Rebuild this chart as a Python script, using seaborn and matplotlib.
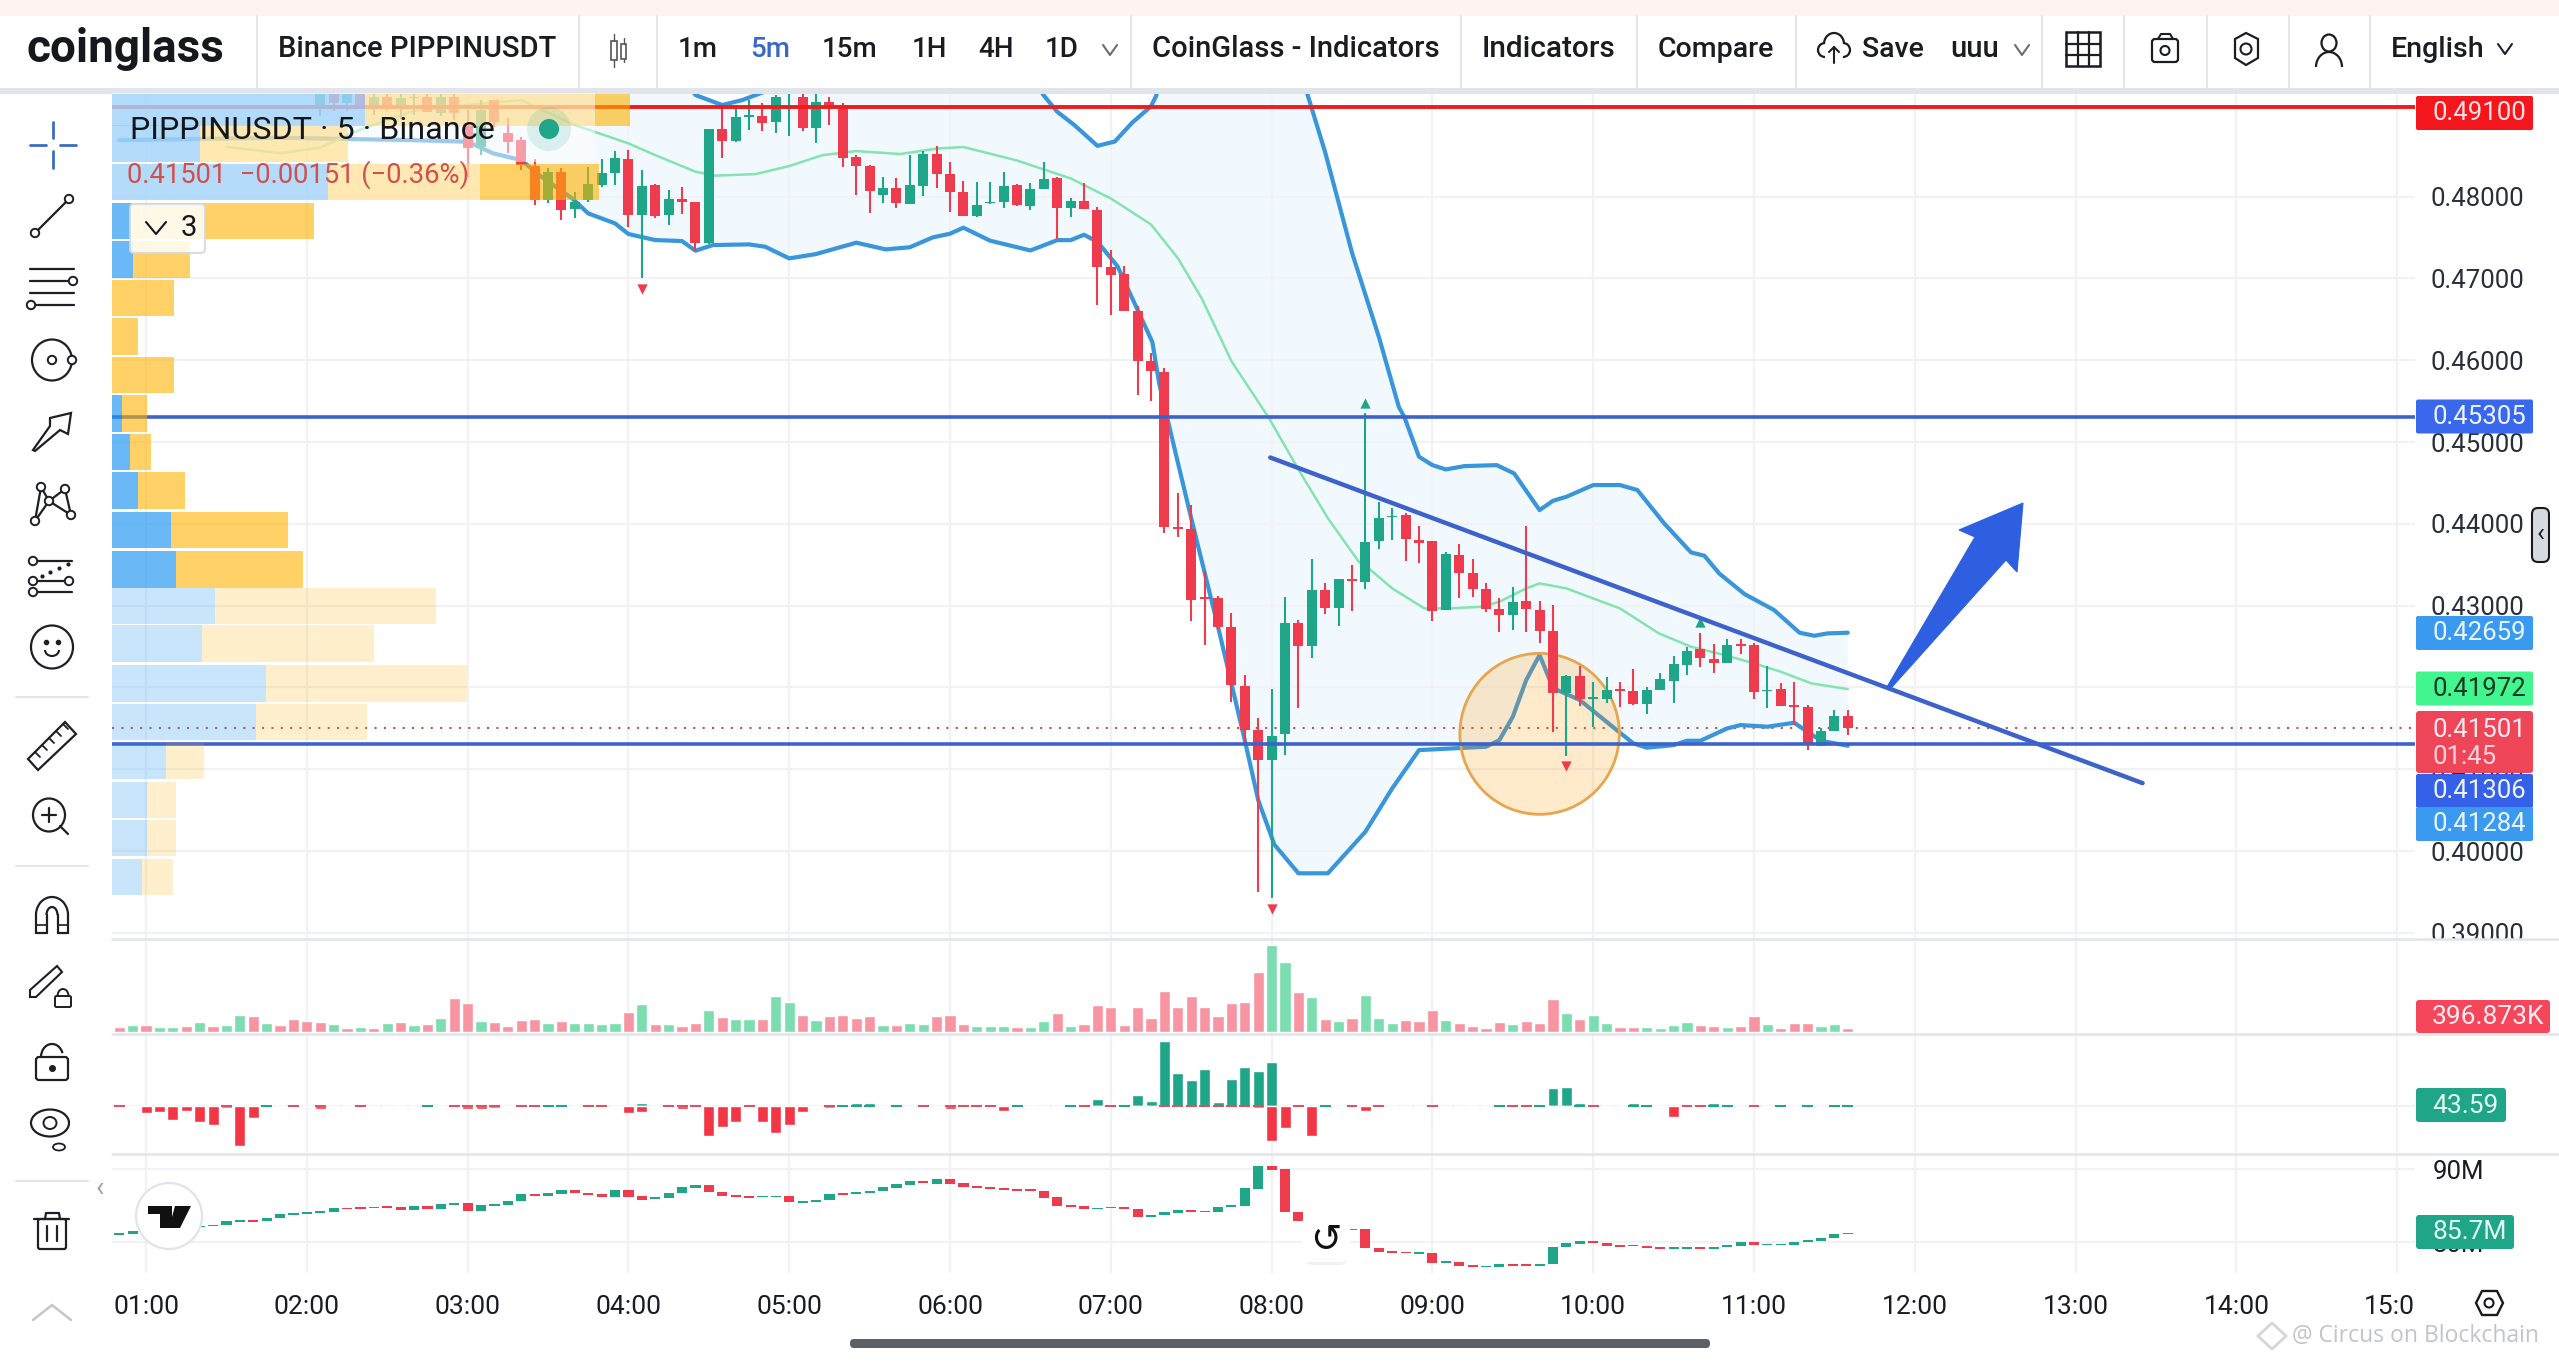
import numpy as np
import pandas as pd
import matplotlib
matplotlib.use('Agg')
import matplotlib.pyplot as plt
import seaborn as sns
from matplotlib.patches import Rectangle, FancyBboxPatch, Circle, Ellipse, Polygon, Arc

# bars are 5 min, index 0 = 01:00
hour_idx = [0, 12, 24, 36, 48, 60, 72, 84, 96, 108, 120, 132, 144, 156, 168]
hour_labels = ['01:00', '02:00', '03:00', '04:00', '05:00', '06:00', '07:00', '08:00',
               '09:00', '10:00', '11:00', '12:00', '13:00', '14:00', '15:00']
price_ticks = [0.39, 0.40, 0.41, 0.42, 0.43, 0.44, 0.45, 0.46, 0.47, 0.48]

candle_first = 13
candle_open = [.4910, .4930, .4915, .4925, .4912, .4922, .4910, .4920,
               .49222, .49018, .49222, .48896, .48610, .49181, .48773, .48692, .48374, .47958,
               .48305, .47844, .47958, .48142, .48292, .48459, .47775, .48142, .47775, .47966,
               .47938, .47429, .48822, .48684, .48977, .48985, .48908, .49290, .49222, .48834,
               .49160, .49091, .48480, .48378, .48019, .48101, .47912, .48124, .48521, .48276,
               .48057, .47766, .47918, .47931, .48137, .47885, .48090, .48223, .47859, .47951,
               .47839, .47143, .47050, .46606, .45990, .45857, .43962, .43943, .43101, .43088,
               .42743, .42021, .41478, .41107, .41425, .42783, .42511, .43194, .42969, .43320,
               .43292, .43793, .44079, .44103, .43806, .43785, .42946, .43614, .43402, .43207,
               .42962, .42885, .43052, .42950, .42693, .41927, .42143, .41858, .41858, .41972,
               .41960, .41797, .41972, .42082, .42273, .42469, .42351, .42302, .42526, .42518,
               .41951, .41976, .41776, .41756, .41287, .41471, .41654]
candle_high = [.4935, .4935, .4930, .4935, .4930, .4935, .4925, .4935,
               .49400, .49400, .49300, .49059, .49181, .49181, .48957, .48733, .48455, .48345,
               .48345, .48060, .48366, .48455, .48557, .48570, .48325, .48150, .48081, .48113,
               .47938, .48830, .49099, .49079, .49181, .49140, .49242, .49303, .49262, .49262,
               .49222, .49140, .48508, .48386, .48235, .48223, .48508, .48561, .48621, .48422,
               .48196, .48177, .48177, .48296, .48150, .48163, .48422, .48243, .47978, .48163,
               .47879, .47348, .47149, .46666, .46089, .45904, .44380, .44234, .43419, .43121,
               .42909, .42147, .41630, .41981, .43101, .42823, .43565, .43273, .43320, .43492,
               .45350, .44262, .44189, .44136, .43973, .43785, .43659, .43749, .43569, .43272,
               .43088, .43223, .43973, .43056, .43007, .42151, .42265, .42066, .42131, .42061,
               .42220, .42009, .42171, .42387, .42498, .42661, .42526, .42587, .42595, .42538,
               .42265, .42049, .42070, .41784, .41499, .41723, .41723]
candle_low = [.4898, .4905, .4905, .4910, .4900, .4905, .4895, .4900,
              .49038, .48980, .48940, .48243, .48508, .48855, .48529, .48325, .47897, .47917,
              .47714, .47734, .47938, .48121, .48142, .47632, .47001, .47734, .47653, .47787,
              .47339, .47420, .48468, .48671, .48814, .48806, .48773, .48741, .48806, .48659,
              .48875, .48358, .48019, .47803, .47917, .47856, .47912, .48011, .48110, .47812,
              .47766, .47746, .47912, .47865, .47885, .47832, .48090, .47481, .47753, .47845,
              .46679, .46547, .46606, .45573, .45506, .43883, .43836, .42810, .42518, .42710,
              .41816, .41319, .39497, .39430, .41180, .41749, .42366, .42896, .42757, .42929,
              .43207, .43696, .43801, .43545, .43524, .42811, .42946, .43092, .43101, .42925,
              .42681, .42701, .42681, .42538, .41458, .41161, .41772, .41520, .41805, .41764,
              .41784, .41674, .41968, .41813, .42151, .42245, .42171, .42294, .42404, .41854,
              .41744, .41772, .41540, .41234, .41287, .41471, .41418]
candle_close = [.4930, .4915, .4925, .4912, .4922, .4910, .4920, .4922,
                .49038, .49222, .49018, .48590, .49059, .48916, .48671, .48386, .47958, .48305,
                .47836, .47938, .48154, .48284, .48468, .47775, .48133, .47763, .47966, .47930,
                .47429, .48822, .48684, .48969, .48997, .48896, .49222, .49303, .48834, .49160,
                .49091, .48468, .48374, .48072, .48101, .47917, .48137, .48521, .48276, .48057,
                .47766, .47898, .47931, .48130, .47892, .48097, .48216, .47865, .47951, .47845,
                .47143, .47043, .46606, .45990, .45864, .43962, .43943, .43075, .43081, .42743,
                .42027, .41478, .41107, .41411, .42783, .42511, .43187, .42969, .43320, .43300,
                .43781, .44066, .44095, .43810, .43769, .42934, .43626, .43402, .43207, .42958,
                .42885, .43048, .42958, .42693, .41927, .42143, .41854, .41874, .41972, .41956,
                .41797, .41972, .42098, .42282, .42449, .42363, .42302, .42522, .42510, .41947,
                .41968, .41776, .41760, .41308, .41467, .41654, .41501]

# bollinger, read at the bends of each curve
upper_x = [-2, 38, 41, 43, 44.5, 46.5, 50, 64, 67, 68, 69.3, 71, 72.3, 73.6, 75, 75.4, 76, 85, 86.7, 88, 90, 92,
           93.5, 93.9, 95, 96, 97, 98.4, 100.8, 102.1, 104, 105, 106, 108, 110, 111.3, 112, 113.3, 115.3, 116.3,
           117.4, 119.3, 121.5, 123.4, 124.5, 125.5, 127]
upper_y = [.505, .50, .49242, .49120, .49181, .49303, .50, .50, .49237, .49038, .48872, .48621, .48674, .48905,
           .49104, .49237, .50, .505, .49237, .48541, .47315, .46288, .45427, .45309, .44820, .44718, .44665,
           .44706, .44718, .44616, .44168, .44282, .44331, .44474, .44474, .44413, .44270, .44005, .43651, .43610,
           .43394, .43141, .42946, .42669, .42632, .42661, .42669]
lower_x = [-2, 10, 20, 24, 25.9, 28, 29.5, 31.8, 33, 35, 36, 38, 40, 41, 42.3, 45, 46.2, 48, 50, 53, 55.2, 57,
           58.7, 60, 61, 63, 66, 68, 69, 70, 71, 72.5, 73.8, 75.1, 75.6, 76.5, 78, 80, 82, 83, 84.2, 86, 88.2,
           91, 93, 95, 100, 101, 102, 103, 104, 105, 107, 110, 111, 112, 114, 115, 116, 118, 119, 121, 123, 124,
           125, 127]
lower_y = [.4869, .4872, .4869, .48671, .48529, .48447, .48243, .47979, .47795, .47673, .47543, .47469, .47457,
           .47339, .47408, .47416, .47388, .47245, .47298, .47437, .47355, .47381, .47501, .47547, .47620, .47461,
           .47342, .47468, .47468, .47534, .47448, .47149, .46686, .46222, .45725, .45095, .44068, .42743, .41352,
           .40623, .40080, .39728, .39728, .40236, .40766, .41234, .41275, .41356, .41642, .42090, .42396, .41992,
           .41846, .41446, .41316, .41263, .41295, .41348, .41348, .41499, .41540, .41520, .41568, .41458, .41348,
           .41287]
mid_x = [6, 10, 13, 16, 20, 24, 28, 32, 36, 38, 41, 42.5, 45.5, 48, 50.5, 53, 56.3, 59, 61, 65, 69, 72, 75, 77,
         78.8, 81, 83.8, 86, 88.2, 90.5, 91.4, 93, 95.4, 97.3, 99.7, 101, 103, 104, 106, 108, 110, 112.9, 115.3,
         117.8, 120, 122, 124.3, 127]
mid_y = [.4861, .4853, .4860, .4882, .4905, .4912, .4918, .48875, .48651, .48508, .48305, .48256, .48276, .48374,
         .48508, .48557, .48521, .48587, .48607, .48442, .48223, .47978, .47660, .47249, .46752, .45989, .45294,
         .44665, .44068, .43538, .43435, .43211, .42966, .42966, .42986, .43048, .43211, .43272, .43211, .43088,
         .42966, .42661, .42498, .42396, .42294, .42192, .42049, .41980]

signal_up_idx = [91, 116]
signal_up_px = [.45480, .42803]
signal_dn_idx = [37, 84, 106]
signal_dn_px = [.46866, .39297, .41039]

# volume profile rows (price centre, buy and sell size)
vp_price = [.49083, .48649, .48178, .47702, .47231, .46760, .46290, .45819, .45348, .44878, .44407, .43924, .43441,
            .42995, .42537, .42048, .41577, .41100, .40623, .40159, .39682]
vp_buy = [253, 88, 216, 19, 21, 0, 0, 0, 10, 18, 26, 59, 64, 103, 90, 154, 144, 54, 35, 35, 30]
vp_sell = [265, 148, 271, 183, 57, 62, 26, 62, 25, 21, 47, 117, 127, 221, 172, 201, 111, 38, 29, 29, 31]
vp_value_area = [1] * 13 + [0] * 8

# lower panes start at index -2
pane_idx = list(range(-2, 128))
volume_k = [450, 660, 660, 450, 450, 570, 930, 570, 660, 1560, 1470, 840, 660, 1200, 1020, 930, 750, 390, 480, 390,
            840, 930, 660, 750, 1290, 3090, 2640, 1020, 930, 570, 1110, 1200, 840, 1020, 840, 840, 750, 840, 1830,
            2550, 690, 750, 570, 840, 1950, 1350, 1200, 1200, 1200, 3270, 2730, 1560, 1110, 1410, 1560, 1290, 1470,
            660, 660, 840, 750, 1470, 1560, 750, 570, 570, 570, 480, 480, 960, 1740, 570, 750, 2460, 2280, 660,
            2280, 1290, 3720, 2280, 3270, 2280, 1470, 2640, 2730, 5430, 7800, 6330, 3630, 3180, 1200, 1020, 1290,
            3360, 1290, 840, 1110, 1020, 2010, 1110, 840, 570, 390, 930, 750, 1020, 840, 3000, 1740, 1200, 1560,
            840, 480, 480, 480, 390, 660, 930, 660, 570, 480, 570, 1470, 750, 390, 840, 840, 570, 750, 397]
volume_dir = list('RGRGGRGRGG' 'RGRRRRGRGR' 'GRGRGRRGRR' 'RRGRGGGGRG' 'RGRRGRGGRG' 'GRGRRRRGRG' 'GRRRGGGRGG'
                  'RGRRRRRRRR' 'RRRRRRGGRG' 'RGRGGGRRRG' 'RRRRGRRRGR' 'GGRRGGGGRR' 'GRRGRRRGGR')

delta_up = [0, 0, 0, 0, 0, 0, 0, 0, 0, 0, 0, 4, 0, 0, 0, 3, 0, 0, 0, 0, 0, 0, 0, 3, 0, 0, 0, 0, 0, 0, 0, 0, 3, 6, 0, 0,
            0, 0, 0, 10, 0, 0, 0, 0, 0, 0, 0, 0, 0, 0, 0, 0, 0, 0, 4, 8, 10, 0, 3, 0, 0, 0, 0, 0, 0, 0, 0, 3, 0, 0, 0,
            3, 0, 20, 0, 3, 32, 15, 195, 99, 78, 111, 12, 81, 117, 105, 131, 0, 0, 0, 3, 0, 0, 0, 0, 0, 0, 0, 0, 0, 0,
            0, 0, 3, 0, 0, 5, 53, 57, 8, 0, 0, 0, 8, 3, 0, 0, 0, 0, 8, 3, 0, 0, 0, 3, 0, 3, 0, 3, 3]
delta_down = [3, 0, 22, 18, 42, 15, 49, 57, 6, 120, 37, 0, 0, 4, 0, 9, 0, 0, 4, 0, 0, 0, 0, 0, 0, 4, 9, 9, 5, 0, 4, 4,
              0, 0, 0, 4, 4, 0, 21, 18, 0, 4, 9, 4, 90, 63, 48, 4, 48, 80, 56, 17, 0, 5, 0, 0, 0, 0, 0, 0, 3, 0, 9, 4,
              4, 3, 15, 0, 0, 0, 0, 0, 3, 0, 3, 0, 0, 0, 3, 3, 3, 3, 3, 3, 3, 5, 106, 66, 3, 90, 0, 0, 3, 15, 4, 0, 0,
              0, 3, 0, 0, 0, 0, 0, 3, 3, 0, 0, 0, 0, 3, 0, 0, 0, 0, 0, 34, 3, 3, 0, 0, 0, 3, 0, 0, 0, 0, 0, 0, 0]

# third pane candles, in steps of 1/22 M above 80M
cvd_open_steps = [23, 26, 29, 34, 38, 42, 47, 49, 52, 62, 67, 64, 73, 82, 86, 88, 91, 104, 105, 103, 109, 105, 97,
                  108, 101, 112, 117, 94, 109, 112, 125, 145, 140, 146, 156, 149, 145, 137, 156, 138, 129, 133, 147,
                  164, 171, 151, 141, 140, 135, 135, 138, 119, 121, 127, 149, 146, 148, 153, 163, 172, 183, 175, 189,
                  177, 168, 165, 162, 159, 159, 155, 135, 112, 109, 99, 102, 105, 99, 77, 81, 88, 97, 95, 91, 105,
                  110, 161, 229, 219, 92, 67, 57, 47, 36, 39, -16, -26, -29, -35, -33, -63, -60, -69, -75, -73, -66,
                  -66, -70, -66, -14, -4, 5, -1, -7, -8, -10, -13, -19, -19, -15, -20, -13, -10, 2, -9, -9, -8, 2, 4,
                  12, 24]
cvd_close_steps = [29, 33, 34, 38, 42, 47, 50, 53, 65, 67, 61, 74, 84, 89, 92, 93, 103, 99, 100, 107, 104, 97, 108,
                   101, 114, 117, 93, 111, 114, 125, 144, 139, 147, 156, 148, 142, 137, 156, 136, 127, 136, 149, 165,
                   172, 151, 139, 135, 134, 140, 140, 121, 125, 128, 146, 142, 150, 154, 165, 174, 183, 179, 189, 175,
                   166, 164, 160, 157, 155, 155, 134, 109, 107, 99, 103, 106, 99, 77, 81, 91, 98, 92, 91, 105, 111,
                   162, 229, 217, 92, 65, 57, 47, 39, 39, -16, -28, -31, -33, -30, -61, -57, -70, -73, -70, -66, -70,
                   -72, -65, -13, -3, 5, -1, -10, -13, -12, -17, -20, -14, -13, -20, -13, -8, 2, -8, -4, -4, 2, 6, 14,
                   26, 29]

GREEN = '#1fa587'
RED = '#ef3b4e'
BLUE_LINE = '#3d63cb'
BAND = '#3a96da'
MID = '#84e4ae'
GRID = '#f0f2f6'
SEP = '#e1e4ea'
TXT = '#1a1c20'

sns.set_theme(style='white')
plt.rcParams['font.family'] = ['Roboto', 'DejaVu Sans']
plt.rcParams['axes.unicode_minus'] = False

W, H = 2559, 1361
fig = plt.figure(figsize=(W / 100, H / 100), dpi=100, facecolor='white')


def pane(top, bottom, zorder=1):
    a = fig.add_axes([112 / W, 1 - bottom / H, (2415 - 112) / W, (bottom - top) / H], zorder=zorder)
    a.patch.set_alpha(0)
    for s in a.spines.values():
        s.set_visible(False)
    return a


xlim = (-2.54, 169.33)
ax = pane(93, 938)
ax_vp = pane(93, 938, zorder=2)
ax_vol = pane(939, 1034)
ax_delta = pane(1034, 1154)
ax_cvd = pane(1154, 1273)

# main pane
c_idx = np.arange(candle_first, candle_first + len(candle_open))
c_open, c_close = np.array(candle_open), np.array(candle_close)
c_up = c_close >= c_open
c_col = np.where(c_up, GREEN, RED)

ax.fill(np.r_[upper_x, lower_x[::-1]], np.r_[upper_y, lower_y[::-1]], color='#f2f9fe', lw=0, zorder=0.5)
sns.lineplot(x=upper_x, y=upper_y, estimator=None, sort=False, color=BAND, lw=3.0, ax=ax, zorder=2)
sns.lineplot(x=lower_x, y=lower_y, estimator=None, sort=False, color=BAND, lw=3.0, ax=ax, zorder=2)
sns.lineplot(x=mid_x, y=mid_y, estimator=None, sort=False, color=MID, lw=1.8, ax=ax, zorder=2)
ax.add_patch(Ellipse((104.0, .41433), 11.9, .01968, fc='#ff9800', alpha=.2, ec='none', zorder=2.5))
ax.add_patch(Ellipse((104.0, .41433), 11.9, .01968, fc='none', ec='#e5a64e', lw=2, zorder=2.5))
ax.vlines(c_idx, candle_low, candle_high, colors=c_col, lw=1.5, zorder=3)
ax.bar(c_idx, np.abs(c_close - c_open).clip(min=.0002), bottom=np.minimum(c_open, c_close), width=.74,
       color=c_col, lw=0, zorder=3.1)
ax.scatter(signal_up_idx, signal_up_px, marker='^', s=55, color=GREEN, lw=0, zorder=3)
ax.scatter(signal_dn_idx, signal_dn_px, marker='v', s=55, color=RED, lw=0, zorder=3)
ax.axhline(.491, color='#ee1c1c', lw=2.8, zorder=4)
ax.axhline(.45305, color=BLUE_LINE, lw=2.6, zorder=4)
ax.axhline(.41306, color=BLUE_LINE, lw=2.6, zorder=4)
ax.axhline(.41501, color='#b9544f', lw=1.5, ls=(0, (1, 3.5)), zorder=1.5)
ax.plot([83.9, 149], [.44811, .4083], color=BLUE_LINE, lw=3.2, solid_capstyle='round', zorder=4)
ax.set_xlim(xlim)
ax.set_ylim(.38937, .49267)
ax.set_xticks(hour_idx)
ax.set_yticks(price_ticks, [f'{p:.5f}' for p in price_ticks])
ax.yaxis.tick_right()
ax.tick_params(axis='y', length=0, pad=11, labelsize=18.5, labelcolor='#2a2e39')
ax.tick_params(axis='x', length=0, labelbottom=False)
ax.grid(True, color=GRID, lw=1.6)
ax.set_axisbelow(True)

# volume profile sits over the candles
for p, b, s, va in zip(vp_price, vp_buy, vp_sell, vp_value_area):
    ax_vp.barh(p, b, height=.0045, left=0, color='#2196f3', alpha=.67 if va else .24, lw=0)
    ax_vp.barh(p, s, height=.0045, left=b, color='#ffb300', alpha=.6 if va else .2, lw=0)
ax_vp.set_xlim(0, 2303)
ax_vp.set_ylim(ax.get_ylim())
ax_vp.axis('off')

# volume
vol_df = pd.DataFrame({'idx': pane_idx, 'vol': volume_k, 'dir': volume_dir})
sns.barplot(data=vol_df, x='idx', y='vol', hue='dir', palette={'G': '#7bddb0', 'R': '#f795a2'}, native_scale=True,
            dodge=False, width=.84, saturation=1, errorbar=None, legend=False, ax=ax_vol, zorder=2)
ax_vol.set_ylim(-180, 8370)

# delta histogram, the small readings show as dashes across the zero line
up_arr, down_arr = np.array(delta_up), np.array(delta_down)
sns.barplot(x=pane_idx, y=delta_up, color=GREEN, saturation=1, native_scale=True, width=.82, errorbar=None,
            ax=ax_delta, zorder=2)
sns.barplot(x=pane_idx, y=-down_arr, color='#f23645', saturation=1, native_scale=True, width=.82,
            errorbar=None, ax=ax_delta, zorder=2)
idx_arr = np.array(pane_idx)
dash_g = (up_arr > 0) & (up_arr <= 10) & (down_arr == 0)
dash_r = (down_arr > 0) & (down_arr <= 10)
ax_delta.bar(idx_arr[dash_g], 6, bottom=-3, width=.82, color=GREEN, lw=0, zorder=2.1)
ax_delta.bar(idx_arr[dash_r], 6, bottom=-3, width=.82, color='#e25060', lw=0, zorder=2.1)
ax_delta.set_ylim(-144, 216)

# third pane
cvd_open = 80 + np.array(cvd_open_steps) / 22
cvd_close = 80 + np.array(cvd_close_steps) / 22
cvd_col = np.where(cvd_close >= cvd_open, GREEN, RED)
ax_cvd.bar(pane_idx, np.abs(cvd_close - cvd_open), bottom=np.minimum(cvd_open, cvd_close), width=.76, color=cvd_col,
           lw=0, zorder=2)
ax_cvd.set_ylim(75.82, 92.05)
ax_cvd.set_yticks([80, 90], ['80M', '90M'])
ax_cvd.yaxis.tick_right()
ax_cvd.tick_params(axis='y', length=0, pad=13, labelsize=18.5, labelcolor=TXT)

for a in (ax_vol, ax_delta, ax_cvd):
    a.set_xlim(xlim)
    a.set_xticks(hour_idx)
    a.set_xlabel('')
    a.set_ylabel('')
    a.grid(True, axis='x', color=GRID, lw=1.6)
    a.set_axisbelow(True)
    a.tick_params(axis='x', length=0, labelbottom=False)
ax_vol.set_yticks([])
ax_delta.set_yticks([0], [''])
ax_delta.tick_params(axis='y', length=0)
ax_delta.grid(True, axis='y', color=GRID, lw=1.6)
ax_cvd.grid(True, axis='y', color=GRID, lw=1.6)
ax_cvd.set_xticks(hour_idx, hour_labels)
ax_cvd.tick_params(axis='x', labelbottom=True, pad=16, labelsize=19, labelcolor=TXT)

# page furniture on a pixel overlay
ov = fig.add_axes([0, 0, 1, 1], zorder=10)
ov.set_xlim(0, W)
ov.set_ylim(H, 0)
ov.axis('off')


def rect(x0, y0, x1, y1, color, alpha=1.0, z=1):
    ov.add_patch(Rectangle((x0, y0), x1 - x0, y1 - y0, fc=color, ec='none', alpha=alpha, zorder=z))


def rbox(x0, y0, x1, y1, fc, ec='none', lw=0.0, r=3, alpha=1.0, z=1):
    ov.add_patch(FancyBboxPatch((x0 + r, y0 + r), x1 - x0 - 2 * r, y1 - y0 - 2 * r,
                                boxstyle=f'round,pad={r},rounding_size={r}', fc=fc, ec=ec, lw=lw, alpha=alpha,
                                zorder=z))


def txt(x, y, s, size=19, color=TXT, ha='left', weight='normal', z=5, **kw):
    ov.text(x, y, s, fontsize=size, color=color, ha=ha, va='center', fontweight=weight, zorder=z, **kw)


def stroke(xs, ys, color='#1d1f24', lw=1.6, z=5, **kw):
    ov.plot(xs, ys, color=color, lw=lw, zorder=z, solid_capstyle='round', **kw)


def node(x, y, r=4.2):
    ov.add_patch(Ellipse((x, y), 2 * r, 2 * r, fc='white', ec='#1d1f24', lw=1.4, zorder=6))


def chevron(x, y, w=7, h=5, color='#6a6d75'):
    stroke([x - w, x, x + w], [y - h, y + h, y - h], color=color, lw=1.5)


# top bar
rect(0, 0, W, 16, '#fdf4f2')
rect(0, 88, W, 94, SEP)
for sx in [257, 579, 657, 1131, 1461, 1637, 1796, 2042, 2124, 2207, 2289, 2370]:
    stroke([sx, sx], [16, 88], color='#dfe1e6', lw=1.2)
txt(26, 49, 'coinglass', size=33, weight='bold', color='#16181d')
txt(278, 49, 'Binance PIPPINUSDT', size=21, weight=500)
for tx, label, col in [(698, '1m', TXT), (770, '5m', '#3a68c8'), (850, '15m', TXT), (929, '1H', TXT),
                       (996, '4H', TXT), (1062, '1D', TXT)]:
    txt(tx, 49, label, size=20, ha='center', color=col, weight=500)
chevron(1110, 50)
txt(1152, 49, 'CoinGlass - Indicators', size=21, weight=500)
txt(1482, 49, 'Indicators', size=21.5, weight=500)
txt(1658, 49, 'Compare', size=20.5, weight=500)
txt(1862, 49, 'Save', size=20.5, weight=500)
txt(1950, 49, 'uuu', size=21, weight=500)
chevron(2022, 50)
txt(2391, 49, 'English', size=20.5, weight=500)
chevron(2505, 49, color='#1d1f24')
# candle icon
ov.add_patch(Rectangle((611, 41), 6, 19, fc='white', ec='#555', lw=1.2, zorder=5))
ov.add_patch(Rectangle((621, 44), 5, 15, fc='white', ec='#555', lw=1.2, zorder=5))
stroke([614, 614], [34, 41], color='#555', lw=1)
stroke([614, 614], [60, 67], color='#555', lw=1)
stroke([623.5, 623.5], [38, 44], color='#555', lw=1)
stroke([623.5, 623.5], [59, 62], color='#555', lw=1)
# cloud
ov.add_patch(Arc((1834, 44), 20, 22, theta1=180, theta2=360, ec=TXT, lw=1.6, zorder=5))
ov.add_patch(Arc((1825, 50), 14, 14, theta1=90, theta2=270, ec=TXT, lw=1.6, zorder=5))
ov.add_patch(Arc((1843, 50), 14, 14, theta1=270, theta2=450, ec=TXT, lw=1.6, zorder=5))
stroke([1834, 1834], [47, 63], lw=1.5)
stroke([1829, 1834, 1839], [52, 47, 52], lw=1.5)
# grid
ov.add_patch(Rectangle((2066, 32), 34, 34, fc='none', ec=TXT, lw=1.8, zorder=5))
for g in (2077.5, 2089):
    stroke([g, g], [32, 66], lw=1.6)
for g in (43.5, 55):
    stroke([2066, 2100], [g, g], lw=1.6)
# camera, gear, person
rbox(2152, 39, 2178, 62, 'none', ec=TXT, lw=1.6)
stroke([2158, 2161, 2170, 2173], [39, 34, 34, 39], lw=1.5)
ov.add_patch(Ellipse((2165, 50.5), 9, 9, fc='none', ec=TXT, lw=1.5, zorder=5))
ov.add_patch(Polygon([(2235, 39), (2246, 33), (2258, 39), (2258, 58), (2246, 65), (2235, 58)], fc='none', ec=TXT,
                     lw=1.6, zorder=5))
ov.add_patch(Ellipse((2246, 49), 11, 11, fc='none', ec=TXT, lw=1.5, zorder=5))
ov.add_patch(Ellipse((2329, 43), 15, 17, fc='none', ec=TXT, lw=1.6, zorder=5))
ov.add_patch(Arc((2329, 67), 26, 30, theta1=180, theta2=360, fc='none', ec=TXT, lw=1.6, zorder=5))

# left toolbar
stroke([30, 46], [145, 145], color='#3c6cc0', lw=2)
stroke([60, 76], [145, 145], color='#3c6cc0', lw=2)
stroke([52.7, 52.7], [122, 138], color='#3c6cc0', lw=2)
stroke([52.7, 52.7], [151, 168], color='#3c6cc0', lw=2)
stroke([35, 69], [233, 199])
node(35, 233)
node(69, 199)
for ly in (269, 281, 293, 305):
    stroke([30, 74], [ly, ly])
node(73, 281)
node(31, 305)
ov.add_patch(Ellipse((52, 360), 40, 41, fc='none', ec='#1d1f24', lw=1.6, zorder=5))
node(52, 360)
node(72, 360)
ov.add_patch(Polygon([(33, 450), (50, 426), (50, 418), (71, 413), (68, 434), (60, 430), (35, 451)], fc='none',
                     ec='#1d1f24', lw=1.6, zorder=5))
stroke([41, 35, 49, 41], [487, 521, 501, 487])
stroke([49, 65, 71, 49], [501, 489, 515, 501])
for nx, ny in [(41, 487), (65, 489), (49, 501), (71, 515), (35, 521)]:
    node(nx, ny)
stroke([33, 72], [561, 561])
stroke([33, 69], [581, 581])
stroke([33, 72], [592, 592])
for nx, ny in [(33, 561), (33, 581), (69, 581), (33, 592)]:
    node(nx, ny)
ov.plot([42, 50, 59, 68], [576, 572, 568, 564], ls='none', marker='o', ms=2, color='#1d1f24', zorder=5)
ov.add_patch(Ellipse((52, 647), 42, 43, fc='none', ec='#1d1f24', lw=1.6, zorder=5))
ov.plot([46, 58], [642, 642], ls='none', marker='o', ms=3, color='#1d1f24', zorder=5)
ov.add_patch(Arc((52, 650), 14, 12, theta1=0, theta2=180, ec='#1d1f24', lw=1.5, zorder=5))
ov.add_patch(Polygon([(28, 759), (65, 722), (76, 734), (38, 770)], fc='none', ec='#1d1f24', lw=1.6, zorder=5))
for t in range(5):
    stroke([35 + t * 7, 40 + t * 7], [752 - t * 7, 757 - t * 7], lw=1.3)
ov.add_patch(Ellipse((49, 815), 32, 33, fc='none', ec='#1d1f24', lw=1.6, zorder=5))
stroke([60, 68], [826, 834])
stroke([42, 56], [815, 815])
stroke([49, 49], [808, 822])
ov.add_patch(Arc((52, 915), 32, 36, theta1=180, theta2=360, ec='#1d1f24', lw=1.6, zorder=5))
ov.add_patch(Arc((52, 915), 11, 16, theta1=180, theta2=360, ec='#1d1f24', lw=1.6, zorder=5))
for ux in (36, 68, 46.5, 57.5):
    stroke([ux, ux], [915, 933])
stroke([36, 46.5], [933, 933])
stroke([57.5, 68], [933, 933])
stroke([36, 46.5], [925, 925], lw=1.2)
stroke([57.5, 68], [925, 925], lw=1.2)
ov.add_patch(Polygon([(30, 990), (57, 966), (62, 972), (36, 997), (30, 997)], fc='none', ec='#1d1f24', lw=1.5, zorder=5))
rbox(55, 996, 71, 1007, 'none', ec='#1d1f24', lw=1.4, r=1.5)
ov.add_patch(Arc((63, 996), 11, 14, theta1=180, theta2=350, ec='#1d1f24', lw=1.4, zorder=5))
rbox(36, 1057, 68, 1080, 'none', ec='#1d1f24', lw=1.6, r=3)
ov.add_patch(Arc((52, 1057), 22, 26, theta1=180, theta2=340, ec='#1d1f24', lw=1.6, zorder=5))
ov.plot([52], [1068], marker='o', ms=4, color='#1d1f24', zorder=5)
ov.add_patch(Ellipse((50, 1123), 38, 27, fc='none', ec='#1d1f24', lw=1.6, zorder=5))
ov.add_patch(Ellipse((50, 1123), 13, 12, fc='none', ec='#1d1f24', lw=1.4, zorder=5))
ov.add_patch(Ellipse((59, 1147), 12, 7, fc='none', ec='#1d1f24', lw=1.3, zorder=5))
stroke([34, 69], [1219, 1219])
stroke([45, 46, 59, 60], [1219, 1213, 1213, 1219])
rbox(38, 1219, 66, 1249, 'none', ec='#1d1f24', lw=1.6, r=2)
stroke([47, 47], [1226, 1241])
stroke([57, 57], [1226, 1241])
stroke([33, 52, 71], [1320, 1305, 1320], color='#c4c6cb', lw=1.8)
txt(100, 1188, '‹', size=20, ha='center', color='#9b9ea5')
for sy in (697, 866, 1181):
    stroke([16, 88], [sy, sy], color=SEP, lw=1.5)

# pane separators
for sy, c in [(939, SEP), (1034, SEP), (1154, SEP)]:
    stroke([112, W], [sy, sy], color=c, lw=1.8, z=2)
rect(2415, 940, W, 958, 'white', z=1.5)
rect(2415, 1285, 2470, 1325, 'white', z=1.5)

# legend over the chart
rect(112, 93, 595, 162, 'white', alpha=.5)
rect(112, 162, 480, 200, 'white', alpha=.5)
ov.add_patch(Ellipse((549, 129), 44, 44, fc='#1fa587', alpha=.14, ec='none', zorder=2))
ov.add_patch(Ellipse((549, 129), 20, 20, fc='#1fa587', ec='none', zorder=3))
txt(130, 130, 'PIPPINUSDT · 5 · Binance', size=23.3, color='#14161b')
txt(127, 175, '0.41501  \u22120.00151 (\u22120.36%)', size=19.7, color='#d0504f')
rbox(130, 204, 205, 253, 'white', ec='#d5d8de', lw=1.5, r=4, alpha=.85)
chevron(156, 228, w=10, h=6, color='#14161b')
txt(181, 228, '3', size=21, color='#14161b')

# drawn arrow
ov.add_patch(Polygon([(1887, 687), (1975, 537), (1959, 530), (2023, 503), (2017, 572), (2006, 560), (1892, 687)],
                     fc='#2d5fe0', ec='#2d5fe0', lw=.8, zorder=4))

# price tags
for label, yc, bg, fg in [('0.49100', 113, '#f3171d', '#ffe3e3'), ('0.45305', 416.5, '#3a68ec', '#eef3ff'),
                          ('0.42659', 633, '#3a9af0', '#eaf5ff'), ('0.41972', 688.5, '#42f58f', '#123a24'),
                          ('0.41306', 791, '#3560e8', '#eef3ff'), ('0.41284', 824, '#3a9af0', '#eaf5ff')]:
    rbox(2416, yc - 17, 2533, yc + 17, bg, r=2, z=4)
    txt(2432, yc, label, size=18.5, color=fg)
rbox(2416, 711, 2533, 773, '#ee4658', r=3, z=4)
txt(2432, 730, '0.41501', size=18.5, color='#ffecee')
txt(2432, 757, '01:45', size=18.5, color='#ffd5da')
rbox(2416, 1000, 2550, 1033, '#f4475c', r=3, z=4)
txt(2432, 1017, '396.873K', size=19, color='#ffecee')
rbox(2416, 1088, 2506, 1122, GREEN, r=3, z=4)
txt(2432, 1106, '43.59', size=19, color='#e3fbf2')
rbox(2416, 1215, 2514, 1249, GREEN, r=3, z=4)
txt(2432, 1232, '85.7M', size=19, color='#e3fbf2')

# scale handle
rbox(2532, 508, 2549, 562, '#d8dae2', ec='#17191d', lw=1.5, r=6)
txt(2540.5, 534, '‹', size=19, ha='center')

# TV badge
ov.add_patch(Circle((169, 1216), 33, fc='white', ec='#e2e4ea', lw=1.6, zorder=6))
ov.add_patch(Polygon([(148, 1206), (172, 1206), (172, 1228), (160, 1228), (160, 1214), (148, 1214)], fc='#111', ec='none', zorder=7))
ov.add_patch(Polygon([(175, 1206), (191, 1206), (180, 1228), (169, 1228)], fc='#111', ec='none', zorder=7))

# reset button
rbox(1305, 1219, 1348, 1265, '#e9e9e9', r=8, z=5, alpha=.6)
rbox(1302, 1216, 1350, 1262, 'white', r=8, z=6)
txt(1326, 1241, '\u21ba', size=27, ha='center', color='#111', z=7, family='DejaVu Sans')

# bottom bits
ov.add_patch(Polygon([(2476, 1303), (2482, 1291), (2497, 1291), (2503, 1303), (2497, 1315), (2482, 1315)], fc='none',
                     ec='#17191d', lw=1.7, zorder=5))
ov.add_patch(Ellipse((2489, 1303), 9, 9, fc='none', ec='#17191d', lw=1.5, zorder=5))
rbox(850, 1339, 1710, 1348, '#5b5f66', r=4)
txt(2292, 1336, '@ Circus on Blockchain', size=16.5, color='#c2c4c8', family='Open Sans')
ov.add_patch(Polygon([(2272, 1323), (2286, 1336), (2272, 1349), (2258, 1336)], fc='none', ec='#d5d6d9', lw=2, zorder=5))

fig.savefig('out.png', dpi=100, facecolor='white')
